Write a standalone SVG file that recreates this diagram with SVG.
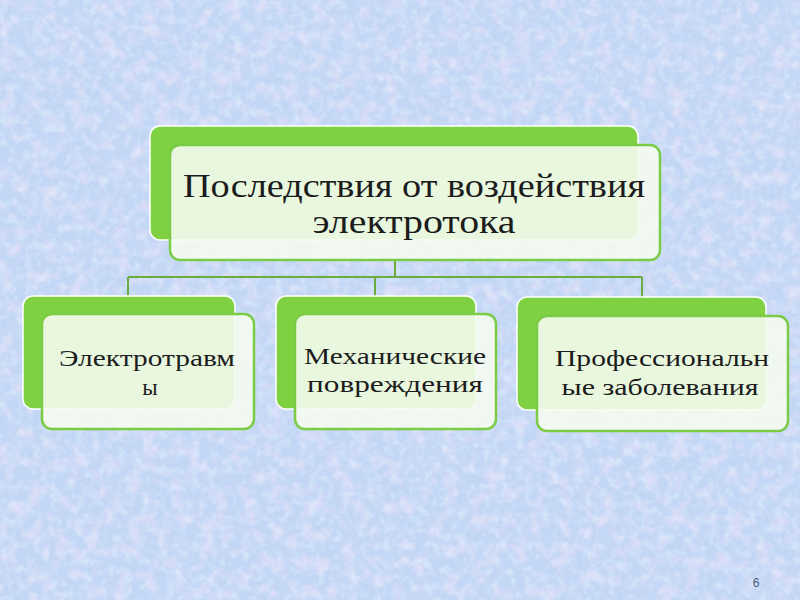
<svg xmlns="http://www.w3.org/2000/svg" width="800" height="600" viewBox="0 0 800 600">
  <defs>
    <filter id="pink" x="0" y="0" width="100%" height="100%">
      <feTurbulence type="fractalNoise" baseFrequency="0.07" numOctaves="3" seed="7" result="t"/>
      <feColorMatrix type="matrix" in="t" values="0 0 0 0 0.88  0 0 0 0 0.78  0 0 0 0 0.95  2.6 0 0 0 -1.15"/>
    </filter>
    <filter id="speck" x="0" y="0" width="100%" height="100%">
      <feTurbulence type="fractalNoise" baseFrequency="0.2" numOctaves="2" seed="11" result="t"/>
      <feColorMatrix type="matrix" in="t" values="0 0 0 0 0.62  0 0 0 0 0.74  0 0 0 0 0.92  0 2.5 0 0 -1.2"/>
    </filter>
    <filter id="light" x="0" y="0" width="100%" height="100%">
      <feTurbulence type="fractalNoise" baseFrequency="0.12" numOctaves="2" seed="23" result="t"/>
      <feColorMatrix type="matrix" in="t" values="0 0 0 0 0.80  0 0 0 0 0.92  0 0 0 0 1  0 0 2.5 0 -1.15"/>
    </filter>
    <style>
      .back { fill: #7fd142; stroke: #ffffff; stroke-width: 1.5; }
      .front { fill: #f5fbf1; fill-opacity: 0.9; stroke: #7bcb46; stroke-width: 2.5; }
      .conn { fill: none; stroke: #6cac3e; stroke-width: 2; }
      .lbl { font-family: "Liberation Serif", "DejaVu Serif", serif; fill: #1c1c1c; text-anchor: middle; }
      .big { font-size: 34px; }
      .small { font-size: 23px; }
    </style>
  </defs>
  <rect x="0" y="0" width="800" height="600" fill="#c2d6f5"/>
  <rect x="0" y="0" width="800" height="600" filter="url(#pink)" opacity="0.6"/>
  <rect x="0" y="0" width="800" height="600" filter="url(#light)" opacity="0.5"/>
  <rect x="0" y="0" width="800" height="600" filter="url(#speck)" opacity="0.3"/>

  <g id="connectors">
    <path class="conn" d="M395 260 V277 M128 277 H642 M128 277 V297 M375 277 V297 M642 277 V297"/>
  </g>

  <g id="root">
    <rect class="back" x="150" y="126" width="488" height="114" rx="10"/>
    <rect class="front" x="170" y="145" width="490" height="115" rx="10"/>
    <text class="lbl big" x="414" y="197" textLength="462" lengthAdjust="spacingAndGlyphs">Последствия от воздействия</text>
    <text class="lbl big" x="414" y="233" textLength="203" lengthAdjust="spacingAndGlyphs">электротока</text>
  </g>

  <g id="node1">
    <rect class="back" x="23" y="296" width="212" height="113" rx="10"/>
    <rect class="front" x="42" y="314" width="212" height="115" rx="10"/>
    <text class="lbl small" x="147" y="366" textLength="176" lengthAdjust="spacingAndGlyphs">Электротравм</text>
    <text class="lbl small" x="150" y="395">ы</text>
  </g>

  <g id="node2">
    <rect class="back" x="276" y="296" width="200" height="113" rx="10"/>
    <rect class="front" x="295" y="314" width="201" height="115" rx="10"/>
    <text class="lbl small" x="395" y="364" textLength="182" lengthAdjust="spacingAndGlyphs">Механические</text>
    <text class="lbl small" x="395" y="392" textLength="176" lengthAdjust="spacingAndGlyphs">повреждения</text>
  </g>

  <g id="node3">
    <rect class="back" x="517" y="297" width="249" height="113" rx="10"/>
    <rect class="front" x="537" y="316" width="251" height="115" rx="10"/>
    <text class="lbl small" x="662" y="366" textLength="214" lengthAdjust="spacingAndGlyphs">Профессиональн</text>
    <text class="lbl small" x="660" y="395" textLength="197" lengthAdjust="spacingAndGlyphs">ые заболевания</text>
  </g>

  <text x="756" y="587" font-family="Liberation Sans, Arial, sans-serif" font-size="12" fill="#4a5a78" text-anchor="middle">6</text>
</svg>
